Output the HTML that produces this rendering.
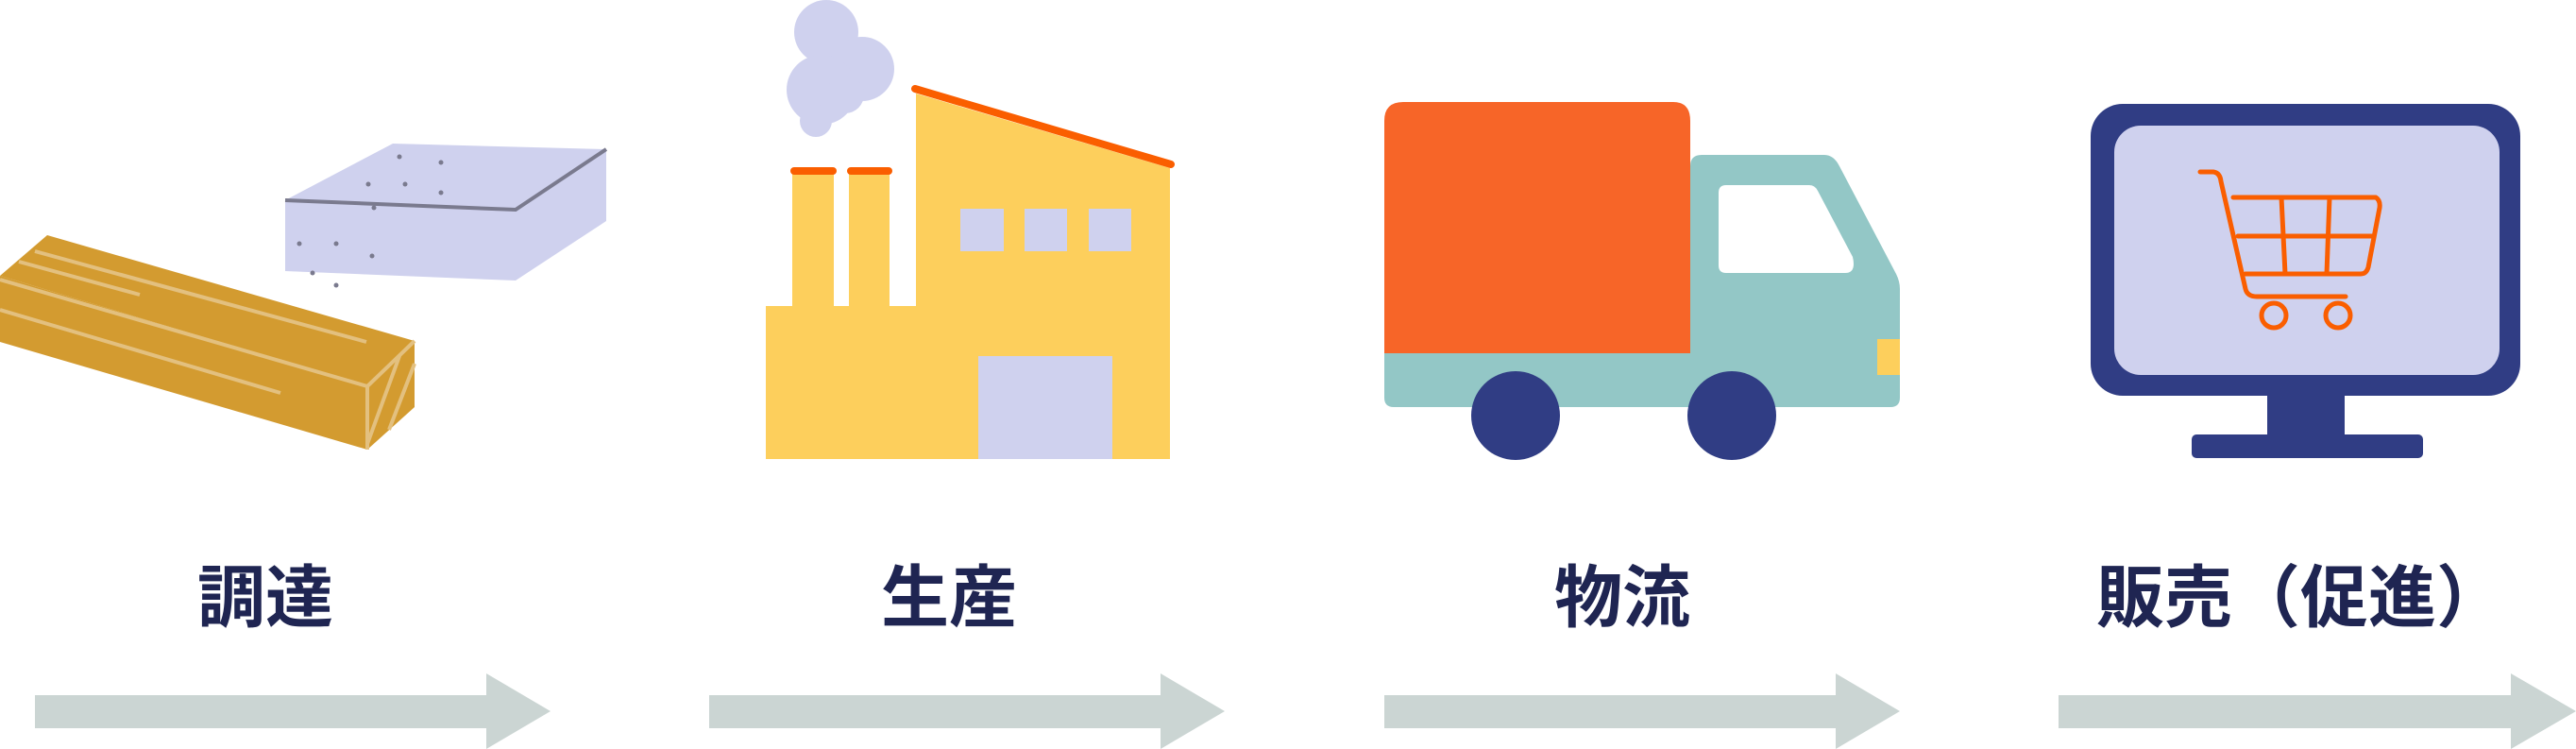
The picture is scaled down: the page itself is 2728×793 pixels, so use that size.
<!DOCTYPE html>
<html><head><meta charset="utf-8">
<style>
html,body{margin:0;padding:0;background:#fff;}
body{width:2728px;height:793px;overflow:hidden;position:relative;}
svg{position:absolute;left:0;top:0;}
.t{position:absolute;top:588px;font-family:"Liberation Sans","Noto Sans CJK JP",sans-serif;font-weight:bold;font-size:72px;line-height:92px;color:#1f2552;white-space:nowrap;transform:translateX(-50%);}
</style></head><body>
<svg width="2728" height="793" viewBox="0 0 2728 793">
<!-- arrows -->
<g fill="#cbd5d3">
<polygon points="37,736 515,736 515,713 583,753 515,793 515,771 37,771"/>
<polygon points="751,736 1229,736 1229,713 1297,753 1229,793 1229,771 751,771"/>
<polygon points="1466,736 1944,736 1944,713 2012,753 1944,793 1944,771 1466,771"/>
<polygon points="2180,736 2659,736 2659,713 2728,753 2659,793 2659,771 2180,771"/>
</g>
<!-- stone -->
<g fill="#cfd1ee">
<polygon points="302,212 416,152 642,158 546,223"/>
<polygon points="302,212 546,223 546,297 302,287"/>
<polygon points="546,223 642,158 642,234 546,297"/>
</g>
<polyline points="302,212 546,222 642,158" fill="none" stroke="#7a7a8e" stroke-width="4"/>
<g fill="#7a7a8e">
<circle cx="423" cy="166" r="2.5"/><circle cx="467" cy="172" r="2.5"/><circle cx="390" cy="195" r="2.5"/><circle cx="429" cy="195" r="2.5"/><circle cx="467" cy="204" r="2.5"/><circle cx="396" cy="220" r="2.5"/>
<circle cx="317" cy="258" r="2.5"/><circle cx="356" cy="258" r="2.5"/><circle cx="394" cy="271" r="2.5"/><circle cx="331" cy="289" r="2.5"/><circle cx="356" cy="302" r="2.5"/>
</g>
<!-- wood -->
<g fill="#d39b30">
<polygon points="50,249 439,361 389,409 0,292"/>
<polygon points="0,292 389,409 389,476 0,362"/>
<polygon points="389,409 439,361 439,431 389,476"/>
</g>
<g stroke="#e3c07f" stroke-width="4" fill="none">
<line x1="37" y1="266" x2="388" y2="362"/>
<line x1="20" y1="277" x2="148" y2="312"/>
<line x1="0" y1="296" x2="389" y2="409"/>
<line x1="0" y1="328" x2="297" y2="416"/>
<polyline points="389,476 389,409 439,361"/>
<line x1="389" y1="470" x2="423" y2="377"/>
<line x1="412" y1="455" x2="439" y2="385"/>
</g>
<!-- factory -->
<g fill="#cfd1ee">
<circle cx="875" cy="34" r="34"/><circle cx="913" cy="73" r="34"/><circle cx="870" cy="95" r="37"/><circle cx="864" cy="128" r="17"/><circle cx="895" cy="100" r="20"/>
</g>
<g fill="#fdcf5c">
<rect x="811" y="324" width="428" height="162"/>
<rect x="839" y="181" width="44" height="150"/>
<rect x="899" y="181" width="43" height="150"/>
<polygon points="970,99 1239,178 1239,330 970,330"/>
</g>
<g fill="#cfd1ee">
<rect x="1017" y="221" width="46" height="45"/><rect x="1085" y="221" width="45" height="45"/><rect x="1153" y="221" width="45" height="45"/>
<rect x="1036" y="377" width="142" height="109"/>
</g>
<g stroke="#fa5e00" stroke-width="8" stroke-linecap="round">
<line x1="969" y1="94" x2="1240" y2="174"/>
<line x1="841" y1="181" x2="882" y2="181"/>
<line x1="901" y1="181" x2="941" y2="181"/>
</g>
<!-- truck -->
<path d="M1466,128 Q1466,108 1486,108 L1772,108 Q1790,108 1790,128 L1790,374 L1466,374 Z" fill="#f76528"/>
<path d="M1790,374 L1790,176 Q1790,164 1802,164 L1932,164 Q1942,164 1948,176 L2008,290 Q2012,298 2012,306 L2012,421 Q2012,431 2002,431 L1476,431 Q1466,431 1466,421 L1466,374 Z" fill="#93c7c6"/>
<path d="M1820,204 Q1820,196 1828,196 L1916,196 Q1922,196 1925,202 L1962,272 Q1966,289 1954,289 L1828,289 Q1820,289 1820,281 Z" fill="#fff"/>
<rect x="1988" y="359" width="24" height="38" fill="#fdcf5c"/>
<circle cx="1605" cy="440" r="47" fill="#303d84"/>
<circle cx="1834" cy="440" r="47" fill="#303d84"/>
<!-- monitor -->
<rect x="2214" y="110" width="455" height="309" rx="34" fill="#303d84"/>
<rect x="2239" y="133" width="408" height="264" rx="28" fill="#cfd1ee"/>
<rect x="2401" y="418" width="82" height="44" fill="#303d84"/>
<rect x="2321" y="460" width="245" height="25" rx="5" fill="#303d84"/>
<g stroke="#fa5e00" stroke-width="5" fill="none" stroke-linejoin="round" stroke-linecap="round">
<path d="M2330,182 L2344,182 Q2351,183 2352,192 L2378,306 Q2380,314 2390,314 L2484,314"/>
<path d="M2365,209 L2516,209 Q2521,212 2520,220 L2508,283 Q2506,290 2500,290 L2378,290"/>
<line x1="2370" y1="250" x2="2513" y2="250"/>
<line x1="2416" y1="209" x2="2420" y2="290"/>
<line x1="2467" y1="209" x2="2464" y2="290"/>
<circle cx="2408" cy="334" r="13"/>
<circle cx="2476" cy="334" r="13"/>
</g>
</svg>
<div class="t" style="left:281px">調達</div>
<div class="t" style="left:1005px">生産</div>
<div class="t" style="left:1718px">物流</div>
<div class="t" style="left:2436px">販売（促進）</div>
</body></html>
